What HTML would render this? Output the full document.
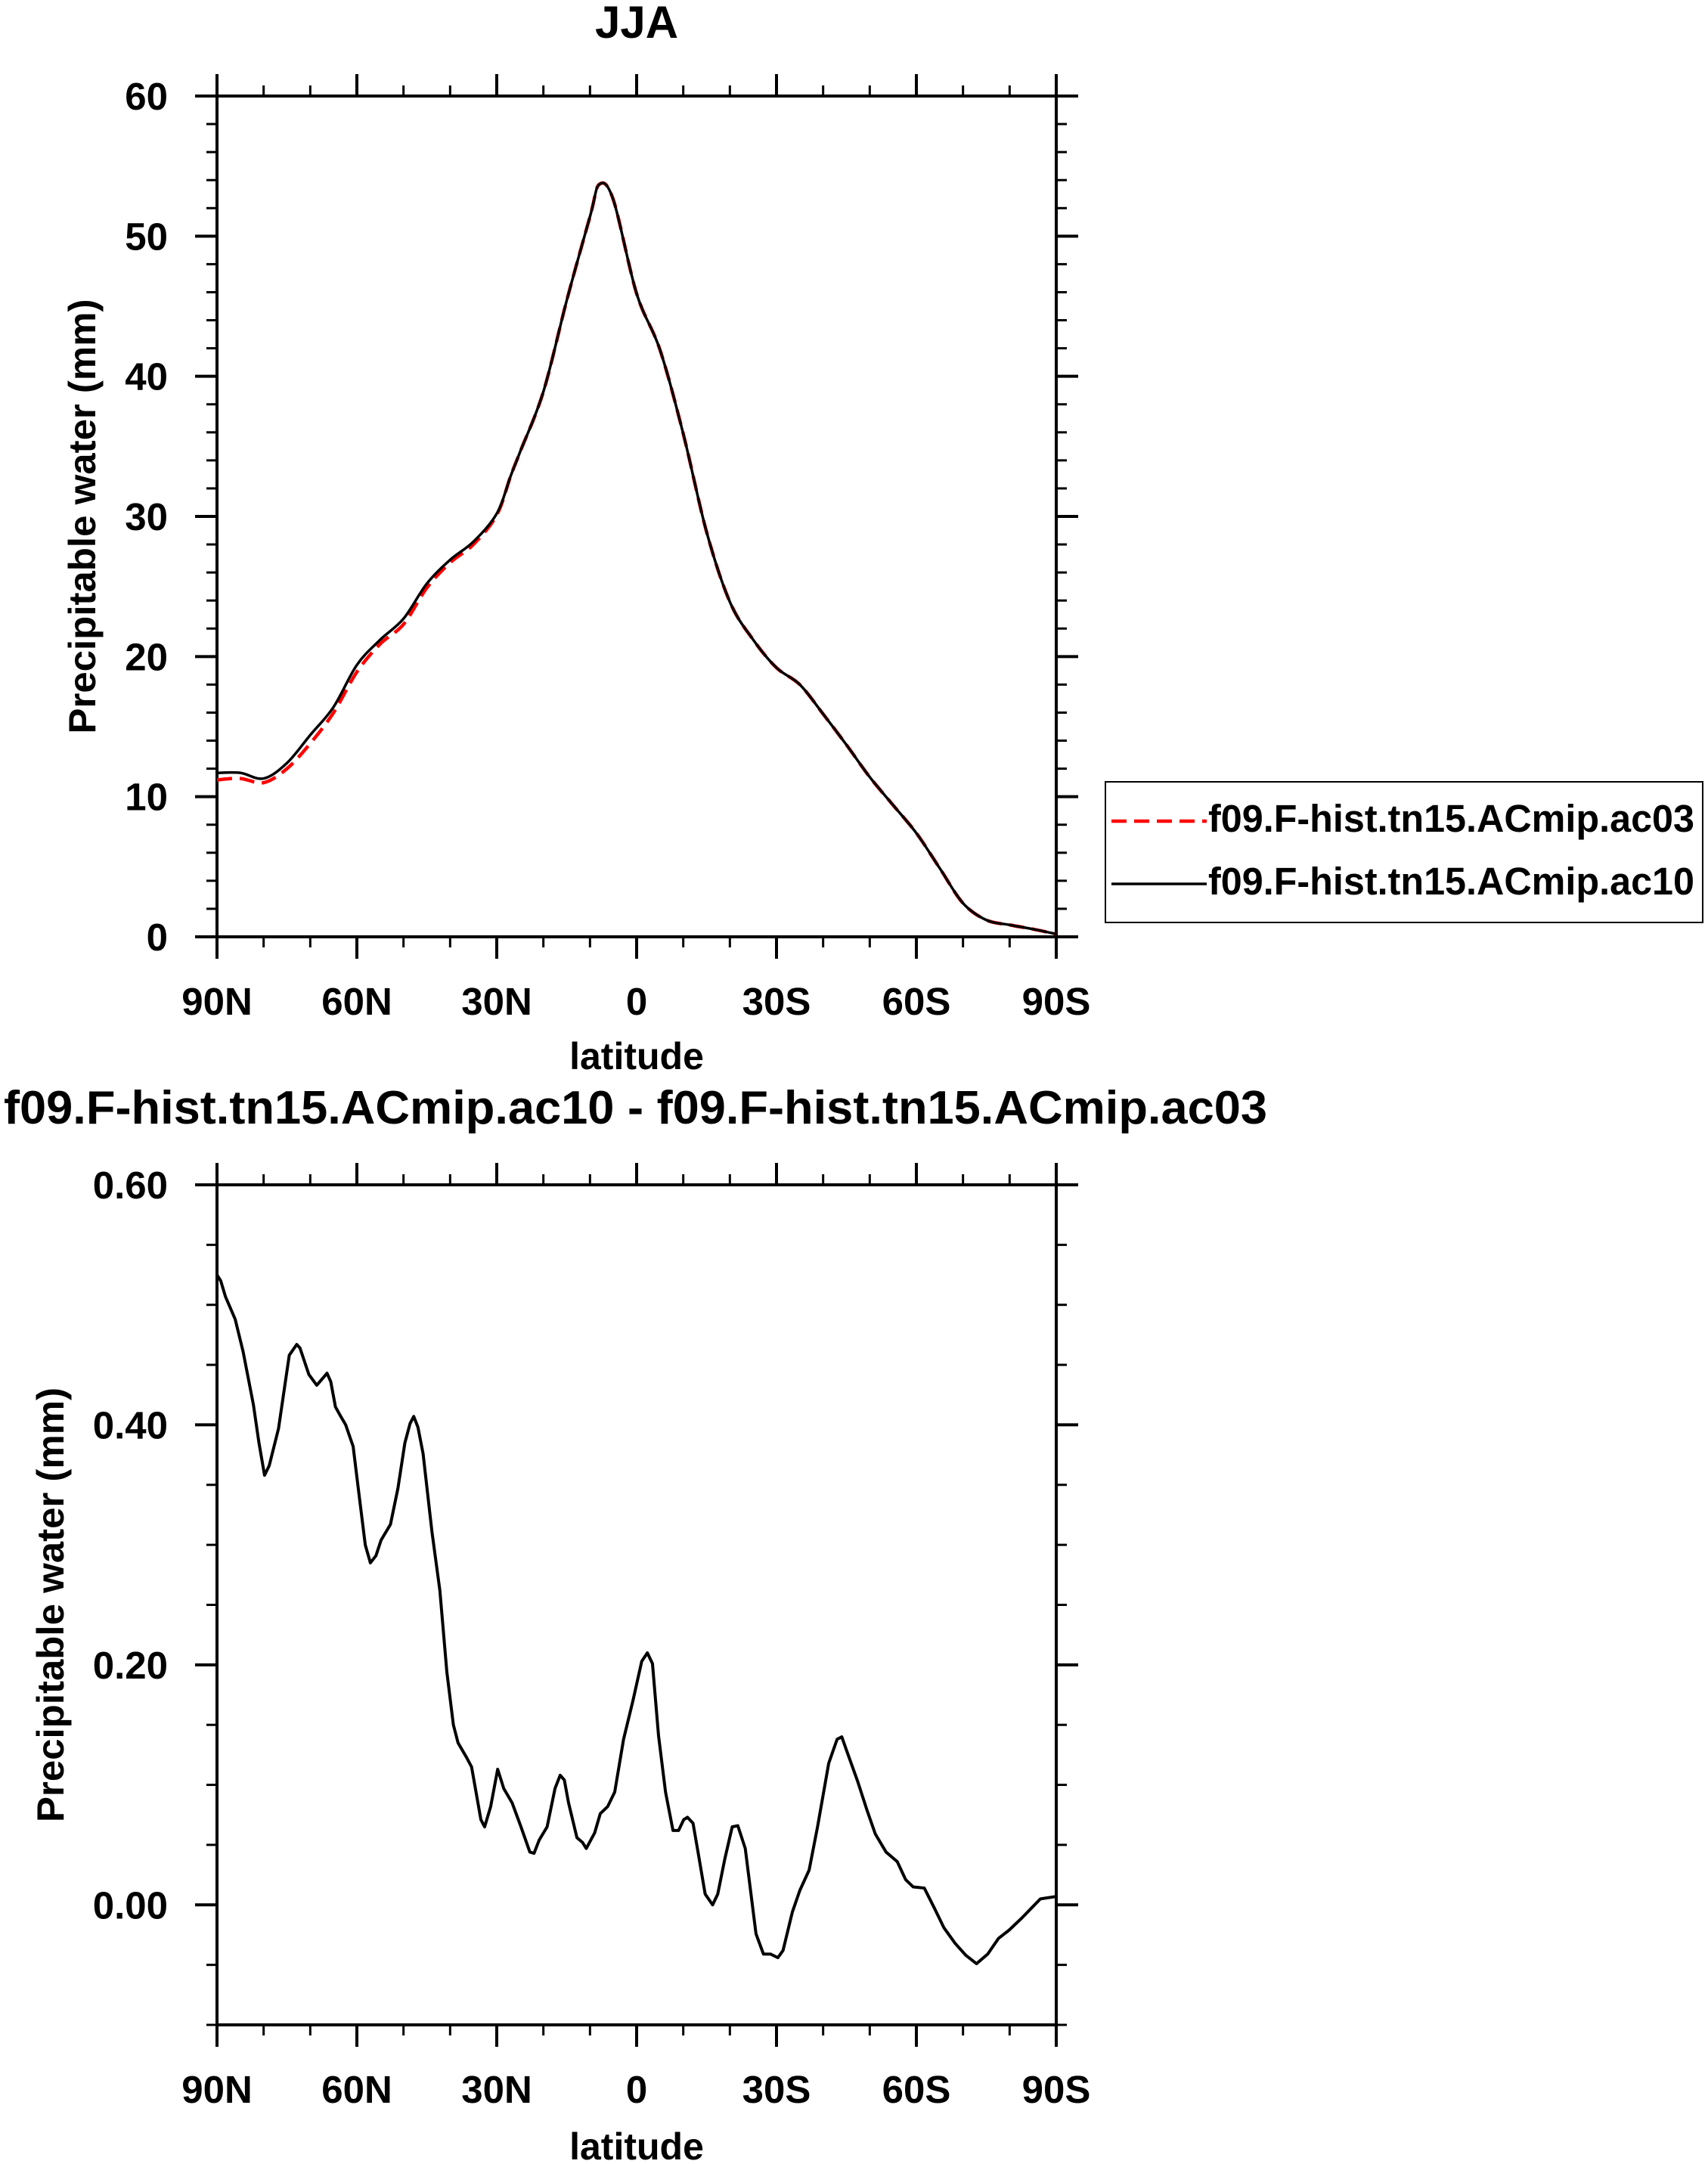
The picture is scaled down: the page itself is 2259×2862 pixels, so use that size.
<!DOCTYPE html>
<html><head><meta charset="utf-8"><style>
html,body{margin:0;padding:0;background:#fff}
svg{display:block}
text{font-family:"Liberation Sans",Arial,sans-serif;font-weight:bold;fill:#000}
</style></head><body>
<svg id="c" width="2259" height="2862" xmlns="http://www.w3.org/2000/svg"></svg>
<script>
// ---- data (top panel) ----
const latTop = [90,85,80,75,70,65,60,55,50,45,40,35,30,27,25,20,15,10,8,5,0,-5,-10,-15,-20,-25,-30,-35,-40,-45,-50,-55,-60,-65,-70,-75,-80,-85,-90];
const ac10 = [11.7,11.7,11.3,12.4,14.4,16.4,19.4,21.2,22.7,25.2,26.9,28.2,30.2,32.9,34.6,38.9,45.4,51.4,53.7,52.6,45.9,41.9,35.9,28.9,23.9,21.2,19.2,18.0,15.9,13.7,11.4,9.4,7.4,4.9,2.4,1.2,0.85,0.55,0.2];
const ac03 = [11.2,11.3,11.0,12.0,13.8,16.0,18.9,20.9,22.3,24.9,26.7,28.0,30.1,32.9,34.6,38.9,45.4,51.4,53.7,52.6,45.9,41.9,35.9,28.9,23.9,21.2,19.2,18.0,15.9,13.7,11.4,9.4,7.4,4.9,2.4,1.2,0.85,0.55,0.2];
const yTicksTop = [0,10,20,30,40,50,60];
// ---- data (bottom panel) ----
const latDiff = [90,89.2,88.2,86.1,84.4,82.2,81,79.8,78.8,76.8,74.5,72.9,72.2,70.3,68.6,66.4,65.6,64.6,63.6,62.4,60.8,59.7,58.2,57.1,55.9,54.8,52.8,51.2,49.7,48.6,47.8,46.9,45.8,43.9,42.2,40.7,39.3,38.3,36.5,35.4,33.4,32.6,31.3,29.8,28.5,26.7,24.8,22.9,22.0,20.9,19.2,17.5,16.4,15.5,14.6,12.8,11.6,10.8,9.0,7.8,6.2,4.7,2.8,0.8,-1.1,-2.3,-3.4,-4.7,-6.2,-7.8,-9.0,-10.1,-10.9,-12.1,-13.3,-14.7,-16.3,-17.4,-18.9,-20.5,-21.7,-23.3,-25.6,-27.2,-28.7,-30.3,-31.4,-33.4,-35.0,-37.0,-38.8,-41.2,-43.0,-44.0,-45.0,-47.4,-49.4,-51.2,-53.5,-55.9,-57.7,-59.3,-61.7,-63.9,-65.9,-68.3,-70.6,-72.9,-75.3,-77.6,-79.9,-82.6,-84.6,-86.6,-90];
const diffVals = [0.525,0.52,0.507,0.488,0.461,0.417,0.385,0.358,0.366,0.397,0.458,0.467,0.464,0.442,0.433,0.443,0.436,0.415,0.408,0.400,0.382,0.347,0.300,0.285,0.291,0.304,0.317,0.347,0.385,0.401,0.407,0.398,0.376,0.311,0.262,0.194,0.150,0.135,0.123,0.115,0.071,0.065,0.082,0.113,0.097,0.085,0.065,0.044,0.043,0.054,0.065,0.097,0.108,0.104,0.085,0.056,0.052,0.047,0.060,0.076,0.082,0.094,0.138,0.170,0.203,0.210,0.201,0.141,0.094,0.062,0.062,0.071,0.073,0.068,0.041,0.009,0.000,0.009,0.038,0.065,0.066,0.047,-0.024,-0.041,-0.041,-0.044,-0.038,-0.006,0.012,0.029,0.065,0.118,0.138,0.140,0.129,0.103,0.079,0.059,0.044,0.036,0.021,0.015,0.014,-0.003,-0.019,-0.032,-0.042,-0.049,-0.041,-0.028,-0.021,-0.011,-0.003,0.005,0.007];
const yTicksBot = [0.00,0.20,0.40,0.60];
const xTickLats = [90,60,30,0,-30,-60,-90];
const xTickLabels = ["90N","60N","30N","0","30S","60S","90S"];

const NS="http://www.w3.org/2000/svg";
const svg=document.getElementById('c');
function mk(tag,attrs,parent){const e=document.createElementNS(NS,tag);for(const k in attrs)e.setAttribute(k,attrs[k]);(parent||svg).appendChild(e);return e;}

function panel(cfg){
  const {L,R,T,B,ymin,ymax,minorStep,yTicks,fmt,prefix}=cfg;
  const X=lat=>L+(90-lat)/180*(R-L);
  const Y=v=>B-(v-ymin)/(ymax-ymin)*(B-T);
  const g=mk('g',{});
  
  
  for(let lat=90;lat>=-90;lat-=10){
    const major=lat%30===0, len=major?29:14, x=X(lat), w=major?4:3;
    mk('line',{x1:x,x2:x,y1:B,y2:B+len,stroke:'#000','stroke-width':w},g);
    mk('line',{x1:x,x2:x,y1:T,y2:T-len,stroke:'#000','stroke-width':w},g);
  }
  xTickLats.forEach((lat,i)=>{
    const t=mk('text',{x:X(lat),y:cfg.xlabY,'text-anchor':'middle','font-size':51},g);
    t.textContent=xTickLabels[i];
    
    
  });
  const n=Math.round((ymax-ymin)/minorStep);
  for(let i=0;i<=n;i++){
    const v=ymin+i*minorStep, y=Y(v);
    const major=yTicks.some(t=>Math.abs(t-v)<1e-6), len=major?29:14, w=major?4:3;
    mk('line',{x1:L,x2:L-len,y1:y,y2:y,stroke:'#000','stroke-width':w},g);
    mk('line',{x1:R,x2:R+len,y1:y,y2:y,stroke:'#000','stroke-width':w},g);
  }
  yTicks.forEach(v=>{
    const t=mk('text',{x:222,y:Y(v)+18,'text-anchor':'end','font-size':51},g);
    t.textContent=fmt(v);
    
    
  });
  const fr=mk('rect',{x:L,y:T,width:R-L,height:B-T,fill:'none',stroke:'#000','stroke-width':4},g);
  
  
  const xt=mk('text',{x:(L+R)/2,y:cfg.xtitleY,'text-anchor':'middle','font-size':50},g);
  xt.textContent='latitude';
  
  
  const cy=(T+B)/2, cx=cfg.ytitleX;
  const yt=mk('text',{x:cx,y:cy,'text-anchor':'middle','font-size':50,textLength:575,lengthAdjust:'spacingAndGlyphs',transform:`rotate(-90 ${cx} ${cy})`},g);
  yt.textContent='Precipitable water (mm)';
  
  
  return {X,Y,g};
}
function smoothPath(pts){
  let d=`M${pts[0][0]},${pts[0][1]}`;
  for(let i=0;i<pts.length-1;i++){
    const p0=pts[Math.max(i-1,0)],p1=pts[i],p2=pts[i+1],p3=pts[Math.min(i+2,pts.length-1)];
    const c1=[p1[0]+(p2[0]-p0[0])/6,p1[1]+(p2[1]-p0[1])/6];
    const c2=[p2[0]-(p3[0]-p1[0])/6,p2[1]-(p3[1]-p1[1])/6];
    d+=` C${c1[0]},${c1[1]} ${c2[0]},${c2[1]} ${p2[0]},${p2[1]}`;
  }
  return d;
}

const topP=panel({L:287,R:1397,T:127,B:1239,ymin:0,ymax:60,minorStep:2,yTicks:yTicksTop,fmt:v=>String(v),prefix:'top',xlabY:1342,xtitleY:1414,ytitleX:126});
const pRed=mk('path',{d:smoothPath(latTop.map((l,i)=>[topP.X(l),topP.Y(ac03[i])])),fill:'none',stroke:'#ff0000','stroke-width':4.5,'stroke-dasharray':'20,10'},topP.g);


const pBlk=mk('path',{d:smoothPath(latTop.map((l,i)=>[topP.X(l),topP.Y(ac10[i])])),fill:'none',stroke:'#000','stroke-width':3.5},topP.g);


const tt=mk('text',{x:842,y:50,'text-anchor':'middle','font-size':60});
tt.textContent='JJA';



const lg=mk('g',{});


mk('rect',{x:1462,y:1034,width:790,height:186,fill:'#fff',stroke:'#000','stroke-width':2},lg);
mk('line',{x1:1470,x2:1596,y1:1086,y2:1086,stroke:'#ff0000','stroke-width':4.5,'stroke-dasharray':'20,10'},lg);
mk('line',{x1:1470,x2:1596,y1:1169,y2:1169,stroke:'#000','stroke-width':3.5},lg);
const l1=mk('text',{x:1598,y:1100,'font-size':51,textLength:643,lengthAdjust:'spacingAndGlyphs'},lg);
l1.textContent='f09.F-hist.tn15.ACmip.ac03';


const l2=mk('text',{x:1598,y:1183,'font-size':51,textLength:643,lengthAdjust:'spacingAndGlyphs'},lg);
l2.textContent='f09.F-hist.tn15.ACmip.ac10';



const botP=panel({L:287,R:1397,T:1567,B:2678,ymin:-0.1,ymax:0.6,minorStep:0.05,yTicks:yTicksBot,fmt:v=>v.toFixed(2),prefix:'bottom',xlabY:2781,xtitleY:2856,ytitleX:84});
const pd=mk('polyline',{points:latDiff.map((l,i)=>`${botP.X(l)},${botP.Y(diffVals[i])}`).join(' '),fill:'none',stroke:'#000','stroke-width':4,'stroke-linejoin':'round'},botP.g);


const bt=mk('text',{x:5,y:1486,'font-size':62,textLength:1671,lengthAdjust:'spacingAndGlyphs'});
bt.textContent='f09.F-hist.tn15.ACmip.ac10 - f09.F-hist.tn15.ACmip.ac03';


</script>
</body></html>
